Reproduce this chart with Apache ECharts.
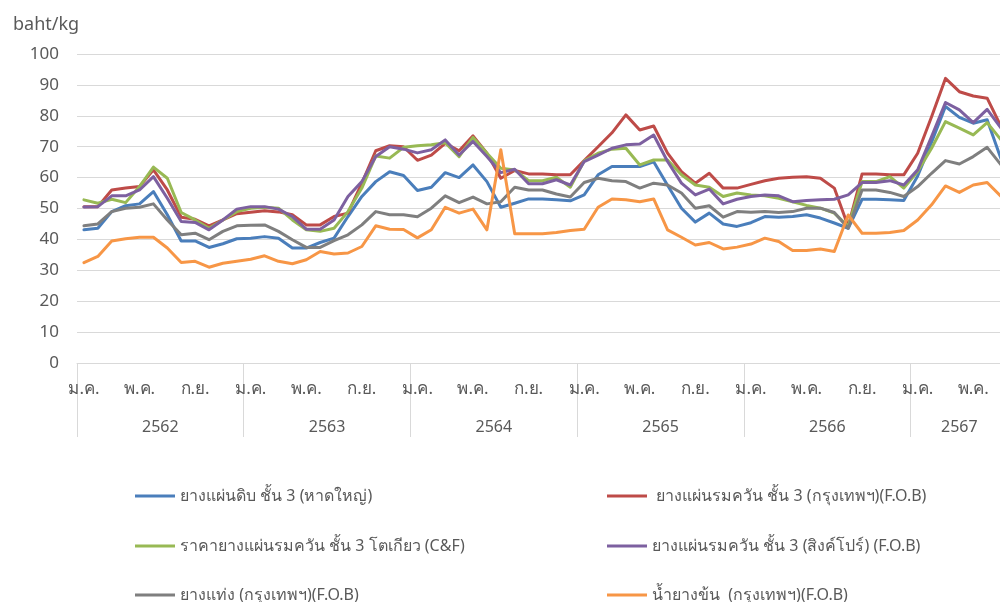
<!DOCTYPE html>
<html>
<head>
<meta charset="utf-8">
<script src="https://cdn.jsdelivr.net/npm/echarts@6/dist/echarts.min.js"></script>
<style>
  html, body { margin: 0; padding: 0; background: #fff; }
  #chart { width: 1000px; height: 602px; }
</style>
</head>
<body>
<div id="chart"></div>
<script>
// year groups on the bottom axis (2567 only goes to July)
const years = ['2562', '2563', '2564', '2565', '2566', '2567'];
const monthsPerYear = [12, 12, 12, 12, 12, 7];
const monthNames = ['ม.ค.', 'ก.พ.', 'มี.ค.', 'เม.ย.', 'พ.ค.', 'มิ.ย.', 'ก.ค.', 'ส.ค.', 'ก.ย.', 'ต.ค.', 'พ.ย.', 'ธ.ค.'];

const seriesNames = [
    'ยางแผ่นดิบ ชั้น 3 (หาดใหญ่)',
    ' ยางแผ่นรมควัน ชั้น 3 (กรุงเทพฯ)(F.O.B)',
    'ราคายางแผ่นรมควัน ชั้น 3 โตเกียว (C&F)',
    'ยางแผ่นรมควัน ชั้น 3 (สิงค์โปร์) (F.O.B)',
    'ยางแท่ง (กรุงเทพฯ)(F.O.B)',
    'น้ำยางข้น  (กรุงเทพฯ)(F.O.B)'
];
const seriesColors = ['#4A7EBB', '#BE4B48', '#98B954', '#7D60A0', '#7F7F7F', '#F79646'];

// baht/kg, monthly Jan 2562 .. Jul 2567
const rssHatyai = [
    43.1, 43.6, 49, 50.9, 51.5, 55.5, 48, 39.5, 39.5, 37.4, 38.6, 40.2,
    40.4, 40.9, 40.4, 37.2, 37.2, 39, 40.4, 47.4, 53.9, 58.7, 61.9, 60.7,
    55.8, 56.9, 61.6, 60, 64.1, 58.7, 50.4, 51.7, 53.1, 53.1, 52.8, 52.5,
    54.4, 60.9, 63.6, 63.6, 63.6, 65.1, 57.5, 50.1, 45.6, 48.5, 45, 44.2,
    45.4, 47.4, 47.2, 47.4, 48, 46.9, 45.3, 43.6, 53, 53, 52.8, 52.6,
    60.5, 71.5, 83, 79.5, 77.6, 78.7, 66
];
const rssBangkok = [
    50.6, 50.6, 56, 56.6, 57.1, 62.5, 56, 47.2, 46.5, 44.4, 46.3, 48.3,
    48.8, 49.3, 48.9, 48, 44.7, 44.7, 47.4, 48.5, 58.2, 68.7, 70.3, 70,
    65.6, 67.3, 71.1, 68.7, 73.5, 67.9, 59.8, 62.3, 61.2, 61.2, 60.9, 60.9,
    65.5, 70, 74.5, 80.3, 75.4, 76.7, 67.9, 61.9, 58.2, 61.4, 56.6, 56.6,
    57.8, 59, 59.8, 60.1, 60.3, 59.8, 56.6, 44.2, 61.2, 61.2, 60.9, 60.9,
    67.9, 79.7, 92.1, 87.8, 86.4, 85.7, 76.5
];
const rssTokyo = [
    52.8, 51.7, 53, 51.9, 57.1, 63.4, 59.8, 48.7, 46.3, 43.6, 46.3, 49,
    50.1, 50.4, 50.1, 46.3, 43.1, 42.6, 43.6, 49, 56.6, 67, 66.3, 69.8,
    70.3, 70.6, 71.3, 66.8, 73, 67.9, 63, 62.5, 59, 59, 60.1, 56.9,
    65.4, 67.9, 69.2, 69.5, 64.1, 65.7, 65.7, 60.9, 57.6, 56.9, 53.9, 55,
    54.4, 54.1, 53.3, 52.2, 51, 50.1, 48.5, 44.2, 58.7, 58.7, 60.3, 56.6,
    62, 69.5, 78.1, 76, 73.8, 77.8, 72.2
];
const rssSingapore = [
    50.5, 50.6, 54.1, 54.1, 56, 60.3, 53.3, 45.8, 45.5, 43.1, 46.3, 49.8,
    50.6, 50.6, 49.8, 47.4, 43.3, 43.3, 46.3, 53.9, 58.7, 66.8, 70, 69.2,
    68, 69, 72.2, 67.3, 71.7, 66.8, 61.6, 62.7, 58, 58, 59.3, 57.6,
    65.2, 67.3, 69.5, 70.6, 70.9, 73.8, 65.2, 58.2, 54.4, 56.3, 51.5, 53,
    53.9, 54.4, 54.1, 52.2, 52.6, 52.8, 53, 54.4, 58.4, 58.4, 59, 57.6,
    62.5, 73.3, 84.3, 81.9, 77.8, 82.1, 76
];
const strBangkok = [
    44.4, 45, 49, 50.1, 50.4, 51.5, 46.3, 41.5, 42, 39.9, 42.6, 44.4,
    44.6, 44.7, 42.6, 39.9, 37.4, 37.4, 39.6, 41.5, 44.7, 49, 48, 48,
    47.3, 50.1, 54.1, 51.9, 53.7, 51.5, 52.2, 56.9, 56, 56, 54.7, 53.7,
    58.4, 59.8, 59, 58.7, 56.6, 58.2, 57.6, 55, 50.1, 50.9, 47.2, 49,
    48.8, 49, 48.7, 49, 50.1, 50.1, 48.7, 43.6, 56, 56, 55.2, 53.9,
    57.1, 61.4, 65.5, 64.4, 66.8, 69.8, 64.1
];
const latexBangkok = [
    32.5, 34.5, 39.5, 40.2, 40.7, 40.7, 37.2, 32.5, 32.9, 31, 32.3, 32.9,
    33.6, 34.7, 32.9, 32.1, 33.4, 36.1, 35.3, 35.6, 37.7, 44.4, 43.3, 43.2,
    40.5, 43.1, 50.4, 48.5, 49.8, 43.1, 69, 41.8, 41.8, 41.8, 42.2, 42.9,
    43.3, 50.4, 53.1, 52.8, 52.2, 53.1, 43.1, 40.7, 38.2, 39, 36.9, 37.5,
    38.5, 40.4, 39.3, 36.4, 36.4, 36.9, 36.1, 47.9, 42, 42, 42.2, 42.9,
    46.3, 51.2, 57.3, 55.2, 57.6, 58.4, 53.9
];
const seriesValues = [rssHatyai, rssBangkok, rssTokyo, rssSingapore, strBangkok, latexBangkok];

// month categories
const months = [];
years.forEach((y, yi) => {
    for (let m = 0; m < monthsPerYear[yi]; m++) months.push(monthNames[m]);
});

// half-month ticks for the year row: separators at year edges, labels at year centres
const halfTicks = new Array(months.length * 2 + 1).fill('');
const yearEdges = new Set();
let start = 0;
years.forEach((y, yi) => {
    yearEdges.add(start * 2);
    halfTicks[start * 2 + monthsPerYear[yi]] = y;
    start += monthsPerYear[yi];
});
yearEdges.add(start * 2);

const textColor = '#595959';
const gridColor = '#D9D9D9';
const font = "'Noto Sans', 'DejaVu Sans', sans-serif";

const legendPos = [
    [135, 488], [607, 488],
    [135, 538], [607, 538],
    [135, 587], [607, 587]
];

const chart = echarts.init(document.getElementById('chart'));

chart.setOption({
    animation: false,
    backgroundColor: '#fff',
    textStyle: { fontFamily: font },
    title: {
        text: 'baht/kg',
        left: 8,
        top: 11,
        textStyle: { color: textColor, fontSize: 18, fontWeight: 'normal', fontFamily: font }
    },
    legend: seriesNames.map((n, i) => ({
        data: [n],
        left: legendPos[i][0],
        top: legendPos[i][1],
        padding: 0,
        icon: 'rect',
        itemWidth: 40,
        itemHeight: 3,
        selectedMode: false,
        textStyle: { color: textColor, fontSize: 16, fontFamily: font }
    })),
    grid: { left: 77, top: 54, width: 931, height: 309, outerBoundsMode: 'none' },
    xAxis: [
        {
            type: 'category',
            data: months,
            boundaryGap: true,
            axisLine: { lineStyle: { color: gridColor, width: 1 } },
            axisTick: { show: false },
            axisLabel: { interval: 3, color: textColor, fontSize: 17, margin: 18 }
        },
        {
            type: 'category',
            data: halfTicks,
            boundaryGap: false,
            position: 'bottom',
            axisLine: { show: false },
            axisTick: {
                show: true,
                length: 74,
                interval: (idx) => yearEdges.has(idx),
                lineStyle: { color: gridColor, width: 1 }
            },
            axisLabel: {
                interval: 0,
                color: textColor,
                fontSize: 16,
                margin: 56
            }
        }
    ],
    yAxis: {
        type: 'value',
        min: 0,
        max: 100,
        interval: 10,
        axisLine: { show: false },
        axisTick: { show: false },
        axisLabel: { color: textColor, fontSize: 17, margin: 18 },
        splitLine: { lineStyle: { color: gridColor, width: 1 } }
    },
    series: seriesNames.map((n, i) => ({
        name: n,
        type: 'line',
        data: seriesValues[i],
        symbol: 'none',
        color: seriesColors[i],
        lineStyle: { width: 3, color: seriesColors[i], cap: 'round', join: 'round' }
    }))
});
</script>
</body>
</html>
